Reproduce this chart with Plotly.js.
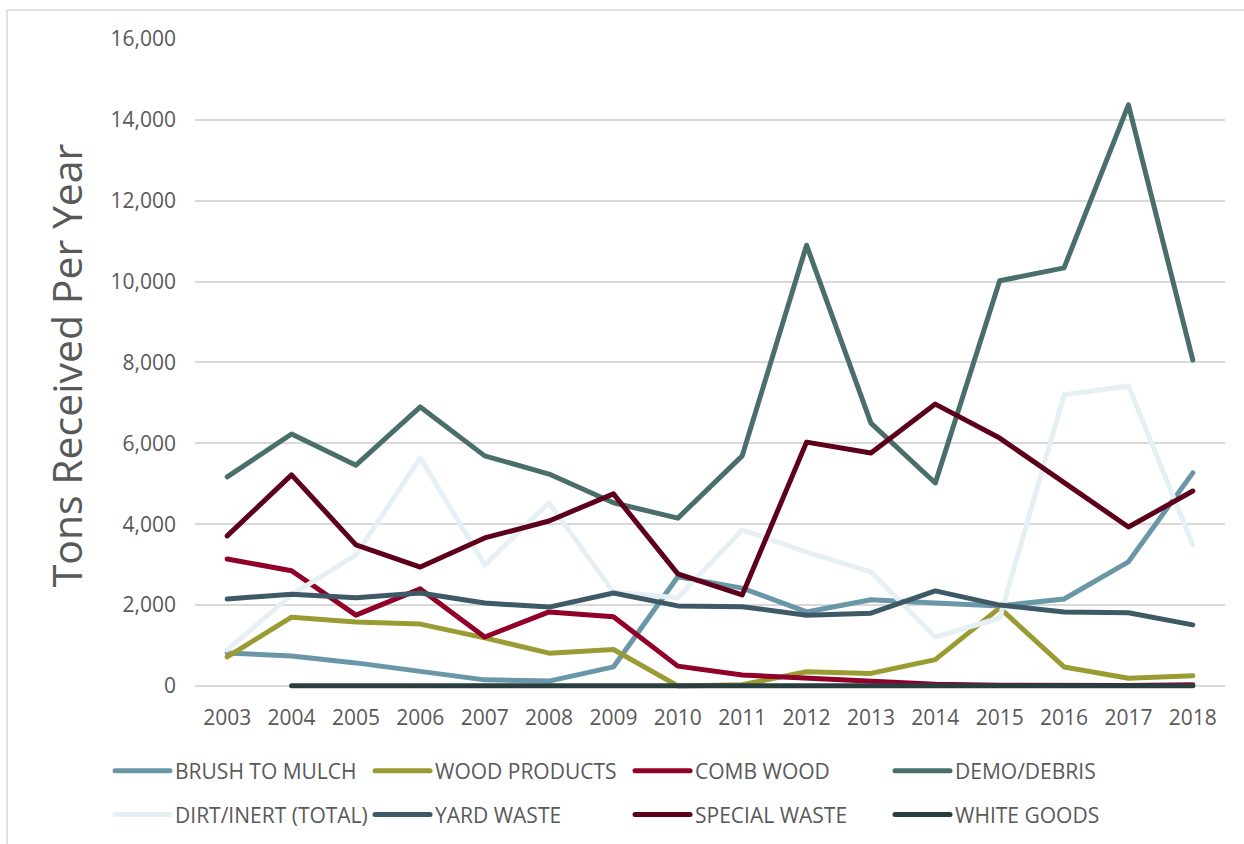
<!DOCTYPE html>
<html>
<head>
<meta charset="utf-8">
<script src="https://cdn.plot.ly/plotly-3.0.1.min.js"></script>
<style>
  html, body { margin: 0; padding: 0; background: #ffffff; }
  #chart { width: 1244px; height: 844px; }
  #chart path.js-line { stroke-linejoin: round; stroke-linecap: round; }
</style>
</head>
<body>
<div id="chart"></div>
<script>
const years = ['2003','2004','2005','2006','2007','2008','2009','2010','2011','2012','2013','2014','2015','2016','2017','2018'];

const brushToMulch = [815, 740, 570, 350, 150, 120, 470, 2700, 2420, 1830, 2130, 2050, 1980, 2150, 3070, 5270];
const woodProducts = [720, 1700, 1580, 1530, 1190, 810, 900, 0, 30, 350, 310, 650, 1930, 470, 190, 250];
const combWood     = [3140, 2850, 1750, 2400, 1210, 1830, 1710, 490, 270, 190, 100, 40, 20, 10, 10, 30];
const demoDebris   = [5170, 6230, 5460, 6900, 5690, 5240, 4530, 4150, 5690, 10900, 6500, 5020, 10020, 10340, 14370, 8060];
const dirtInert    = [890, 2250, 3240, 5640, 2990, 4530, 2320, 2180, 3860, 3310, 2820, 1210, 1680, 7200, 7420, 3490];
const yardWaste    = [2150, 2270, 2180, 2300, 2050, 1950, 2300, 1980, 1960, 1750, 1800, 2350, 2000, 1830, 1810, 1510];
const specialWaste = [3710, 5220, 3490, 2940, 3660, 4080, 4750, 2770, 2250, 6030, 5760, 6970, 6130, 5020, 3930, 4820];
const whiteGoods   = [null, 5, 5, 5, 5, 5, 5, 5, 5, 5, 5, 5, 5, 5, 5, 5];

const seriesNames = ['BRUSH TO MULCH','WOOD PRODUCTS','COMB WOOD','DEMO/DEBRIS','DIRT/INERT (TOTAL)','YARD WASTE','SPECIAL WASTE','WHITE GOODS'];
const seriesData = [brushToMulch, woodProducts, combWood, demoDebris, dirtInert, yardWaste, specialWaste, whiteGoods];
const seriesColors = ['#6A97A7','#9B9B33','#900028','#4A6E6B','#E6EFF4','#3D5A66','#5C001C','#2B3E3F'];

const traces = seriesNames.map((name, i) => ({
  type: 'scatter',
  mode: 'lines',
  name: name,
  x: years,
  y: seriesData[i],
  line: { color: seriesColors[i], width: 5, shape: 'linear' },
  legend: i < 4 ? 'legend' : 'legend2',
  hoverinfo: 'x+y+name'
}));

const legendCommon = {
  orientation: 'h',
  xanchor: 'left',
  yanchor: 'middle',
  x: -0.0825,
  font: { family: 'Open Sans, sans-serif', size: 21, color: '#595959' },
  itemwidth: 55,
  entrywidth: 190,
  entrywidthmode: 'pixels',
  bgcolor: 'rgba(0,0,0,0)',
  borderwidth: 0,
  traceorder: 'normal'
};

const layout = {
  width: 1244,
  height: 844,
  margin: { l: 195, r: 19, t: 39, b: 152, autoexpand: false },
  paper_bgcolor: '#ffffff',
  plot_bgcolor: '#ffffff',
  font: { family: 'Open Sans, sans-serif', color: '#595959' },
  showlegend: true,
  xaxis: {
    type: 'category',
    range: [-0.5, 15.5],
    showgrid: false,
    zeroline: false,
    showline: false,
    ticks: '',
    ticklabelstandoff: 11,
    tickfont: { family: 'Open Sans, sans-serif', size: 21, color: '#595959' },
    fixedrange: true
  },
  yaxis: {
    range: [-150, 16000],
    tickvals: [0, 2000, 4000, 6000, 8000, 10000, 12000, 14000, 16000],
    ticktext: ['0','2,000','4,000','6,000','8,000','10,000','12,000','14,000','16,000'],
    showgrid: true,
    gridcolor: '#D9D9D9',
    gridwidth: 1.5,
    zeroline: false,
    showline: false,
    ticks: '',
    ticklabelstandoff: 18,
    tickfont: { family: 'Open Sans, sans-serif', size: 21, color: '#595959' },
    title: {
      text: 'Tons Received Per Year',
      font: { family: 'Open Sans, sans-serif', size: 41, color: '#595959' },
      standoff: 15
    },
    fixedrange: true
  },
  legend: Object.assign({}, legendCommon, { y: -0.121 }),
  legend2: Object.assign({}, legendCommon, { y: -0.188 }),
  shapes: [
    { type: 'line', xref: 'paper', yref: 'paper', x0: -0.1825, x1: 1.03, y0: 1.0444, y1: 1.0444, line: { color: '#D9D9D9', width: 1.5 } },
    { type: 'line', xref: 'paper', yref: 'paper', x0: -0.1825, x1: -0.1825, y0: 1.0444, y1: -0.26, line: { color: '#D9D9D9', width: 1.5 } }
  ]
};

Plotly.newPlot('chart', traces, layout, { displayModeBar: false, responsive: false });
</script>
</body>
</html>
